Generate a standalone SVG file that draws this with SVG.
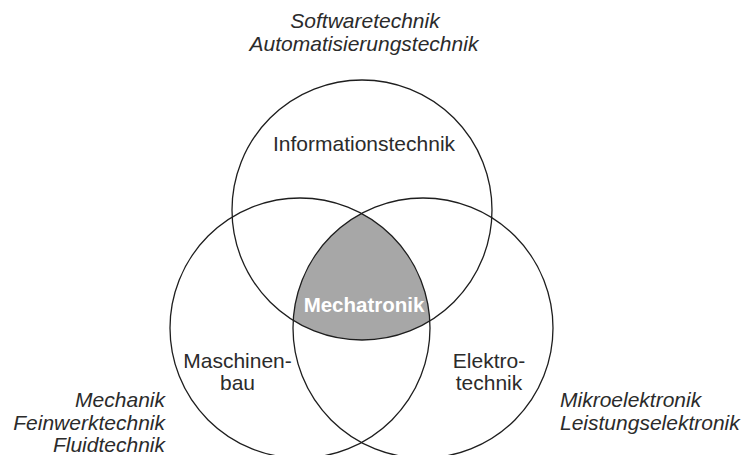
<svg xmlns="http://www.w3.org/2000/svg" width="743" height="455" viewBox="0 0 743 455">
<style>
.t{font-family:"Liberation Sans",Arial,sans-serif;font-size:21px;fill:#2b2b2b}
.i{font-style:italic}
.m{text-anchor:middle}
.c{fill:none;stroke:#1e1e1e;stroke-width:1.3}
</style>
<rect width="743" height="455" fill="#ffffff"/>
<g id="core">
<path d="M361.5 213.5 A130 130 0 0 0 293.2 320.3 A130 130 0 0 0 429.8 320.9 A130 130 0 0 0 361.5 213.5 Z" fill="#a7a7a7"/>
</g>
<g id="connectors">
<circle class="c" cx="362" cy="210" r="130"/>
<circle class="c" cx="300" cy="328" r="130"/>
<circle class="c" cx="423" cy="328" r="130"/>
</g>
<g id="informationstechnik"><text class="t m" x="364" y="151">Informationstechnik</text></g>
<g id="mechatronik"><text class="t m" x="364" y="312" style="font-weight:bold;fill:#ffffff;font-size:20.5px">Mechatronik</text></g>
<g id="maschinenbau"><text class="t m" x="237.5" y="368">Maschinen-</text><text class="t m" x="237.5" y="390">bau</text></g>
<g id="elektrotechnik"><text class="t m" x="489" y="368">Elektro-</text><text class="t m" x="489" y="390">technik</text></g>
<g id="top-label"><text class="t i m" x="365" y="28">Softwaretechnik</text><text class="t i m" x="364" y="51">Automatisierungstechnik</text></g>
<g id="left-label"><text class="t i" x="165" y="406.5" text-anchor="end">Mechanik</text><text class="t i" x="165" y="429.5" text-anchor="end">Feinwerktechnik</text><text class="t i" x="165" y="451.5" text-anchor="end">Fluidtechnik</text></g>
<g id="right-label"><text class="t i" x="560" y="406.5">Mikroelektronik</text><text class="t i" x="560" y="429.5">Leistungselektronik</text></g>
</svg>
